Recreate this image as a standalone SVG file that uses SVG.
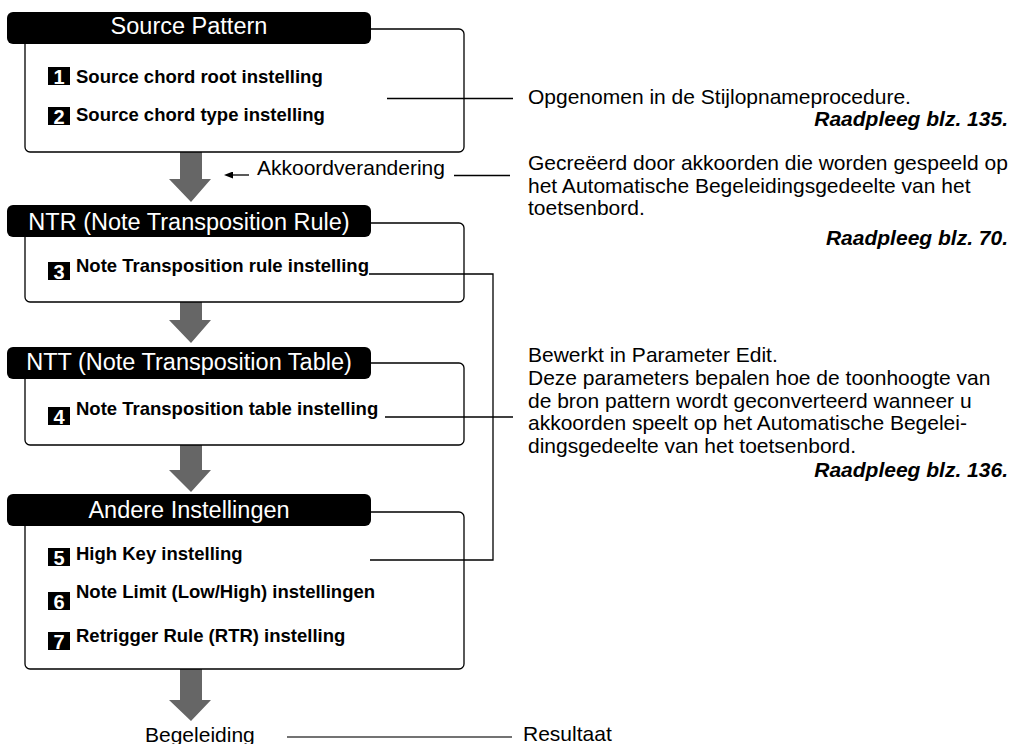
<svg xmlns="http://www.w3.org/2000/svg" width="1011" height="744" viewBox="0 0 1011 744">
<style>
  .box{fill:#fff;stroke:#000;stroke-width:1.3}
  .hdr{fill:#000}
  .ttl{font-family:"Liberation Sans",Arial,sans-serif;font-size:23.5px;fill:#fff;text-anchor:middle}
  .item{font-family:"Liberation Sans",Arial,sans-serif;font-size:18.5px;font-weight:bold;fill:#000}
  .num{fill:#000}
  .dig{font-family:"Liberation Sans",Arial,sans-serif;font-size:20px;font-weight:bold;fill:#fff;text-anchor:middle}
  .txt{font-family:"Liberation Sans",Arial,sans-serif;font-size:21px;fill:#000}
  .ref{font-family:"Liberation Sans",Arial,sans-serif;font-size:21px;font-weight:bold;font-style:italic;fill:#000;text-anchor:end}
  .arr{fill:#666}
  .ln{stroke:#000;stroke-width:1.3;fill:none}
</style>
<defs>
  <marker id="ah" markerWidth="9" markerHeight="7" refX="1" refY="3.5" orient="auto" markerUnits="userSpaceOnUse">
    <path d="M0,3.5 L9,0 L9,7 Z" fill="#000" transform="rotate(180 4.5 3.5)"/>
  </marker>
</defs>

<g id="arrows">
  <polygon class="arr" points="180,152 202,152 202,179 211,179 191,202 169,179 180,179"/>
  <polygon class="arr" points="180,302 202,302 202,320 211,320 191,343 169,320 180,320"/>
  <polygon class="arr" points="180,445 202,445 202,470 211,470 191,492 169,470 180,470"/>
  <polygon class="arr" points="180,669 202,669 202,700 211,700 191,721 169,700 180,700"/>
</g>

<g id="source-pattern">
  <rect class="box" x="25" y="29" width="439" height="123" rx="5"/>
  <rect class="hdr" x="7" y="12" width="364" height="32" rx="6"/>
  <text class="ttl" x="189" y="34">Source Pattern</text>
  <rect class="num" x="48" y="67" width="22" height="18"/>
  <text class="dig" x="59" y="83.5">1</text>
  <text class="item" x="76" y="83">Source chord root instelling</text>
  <rect class="num" x="48" y="107" width="22" height="18"/>
  <text class="dig" x="59" y="123.5">2</text>
  <text class="item" x="76" y="121">Source chord type instelling</text>
</g>

<g id="ntr">
  <rect class="box" x="25" y="223" width="439" height="79" rx="5"/>
  <rect class="hdr" x="7" y="205" width="364" height="32" rx="6"/>
  <text class="ttl" x="189" y="230">NTR (Note Transposition Rule)</text>
  <rect class="num" x="48" y="262" width="22" height="18"/>
  <text class="dig" x="59" y="278.5">3</text>
  <text class="item" x="76" y="272">Note Transposition rule instelling</text>
</g>

<g id="ntt">
  <rect class="box" x="25" y="363" width="439" height="82" rx="5"/>
  <rect class="hdr" x="7" y="347" width="364" height="32" rx="6"/>
  <text class="ttl" x="189" y="370">NTT (Note Transposition Table)</text>
  <rect class="num" x="48" y="407" width="22" height="18"/>
  <text class="dig" x="59" y="423.5">4</text>
  <text class="item" x="76" y="415">Note Transposition table instelling</text>
</g>

<g id="andere">
  <rect class="box" x="25" y="512" width="439" height="157" rx="5"/>
  <rect class="hdr" x="7" y="494" width="364" height="32" rx="6"/>
  <text class="ttl" x="189" y="518">Andere Instellingen</text>
  <rect class="num" x="48" y="548" width="22" height="18"/>
  <text class="dig" x="59" y="564.5">5</text>
  <text class="item" x="76" y="560">High Key instelling</text>
  <rect class="num" x="48" y="592" width="22" height="18"/>
  <text class="dig" x="59" y="608.5">6</text>
  <text class="item" x="76" y="598">Note Limit (Low/High) instellingen</text>
  <rect class="num" x="48" y="632" width="22" height="18"/>
  <text class="dig" x="59" y="648.5">7</text>
  <text class="item" x="76" y="642">Retrigger Rule (RTR) instelling</text>
</g>

<g id="connectors">
  <line class="ln" x1="387" y1="98.5" x2="513" y2="98.5"/>
  <line class="ln" x1="249" y1="175" x2="232" y2="175" marker-end="url(#ah)"/>
  <line class="ln" x1="454" y1="175.5" x2="510" y2="175.5"/>
  <polyline class="ln" points="369,274 493,274 493,560 370,560"/>
  <line class="ln" x1="385" y1="417" x2="513" y2="417"/>
  <line x1="287" y1="737" x2="512" y2="737" stroke="#444" stroke-width="1.5"/>
</g>

<g id="labels">
  <text class="txt" x="257" y="175">Akkoordverandering</text>
  <text class="txt" x="528" y="104">Opgenomen in de Stijlopnameprocedure.</text>
  <text class="ref" x="1008" y="126">Raadpleeg blz. 135.</text>
  <text class="txt" x="528" y="170">Gecreëerd door akkoorden die worden gespeeld op</text>
  <text class="txt" x="528" y="193">het Automatische Begeleidingsgedeelte van het</text>
  <text class="txt" x="528" y="215">toetsenbord.</text>
  <text class="ref" x="1008" y="245">Raadpleeg blz. 70.</text>
  <text class="txt" x="528" y="362">Bewerkt in Parameter Edit.</text>
  <text class="txt" x="528" y="385">Deze parameters bepalen hoe de toonhoogte van</text>
  <text class="txt" x="528" y="408">de bron pattern wordt geconverteerd wanneer u</text>
  <text class="txt" x="528" y="430">akkoorden speelt op het Automatische Begelei-</text>
  <text class="txt" x="528" y="453">dingsgedeelte van het toetsenbord.</text>
  <text class="ref" x="1008" y="477">Raadpleeg blz. 136.</text>
  <text class="txt" x="145" y="742">Begeleiding</text>
  <text class="txt" x="523" y="741">Resultaat</text>
</g>
</svg>
